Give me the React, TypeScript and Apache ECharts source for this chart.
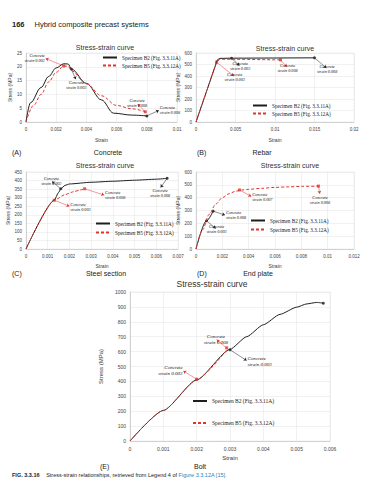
import React, { useEffect, useRef } from "react";
import * as echarts from "echarts";

const B2 = "Specimen B2 (Fig. 3.3.11A)";
const B5 = "Specimen B5 (Fig. 3.3.12A)";
const SANS = "Liberation Sans, Arial, sans-serif";
const SERIF = "Liberation Serif, Times New Roman, serif";
const BLACK = "#1e1e1e";
const RED = "#e0342f";

// (A) Concrete
const concreteStrainB2 = [0, 0.0003, 0.001, 0.0015, 0.002, 0.0025, 0.0028, 0.003, 0.004, 0.005, 0.0058, 0.007, 0.008];
const concreteStressB2 = [0, 7, 12.5, 16.5, 19.6, 21.1, 21.0, 19.2, 14, 8, 3.2, 2.5, 2.2];
const concreteStrainB5 = [0, 0.0005, 0.001, 0.0015, 0.002, 0.0025, 0.0028, 0.003, 0.004, 0.005, 0.006, 0.007, 0.0079];
const concreteStressB5 = [0, 6, 10, 14.5, 18, 20.3, 20.2, 18.6, 13.8, 9.5, 6, 4.8, 3.7];

// (B) Rebar
const rebarStrainB2 = [0, 0.0027, 0.003, 0.0045, 0.015];
const rebarStressB2 = [0, 540, 553, 555, 558];
const rebarStrainB5 = [0, 0.0026, 0.003, 0.0045, 0.0107];
const rebarStressB5 = [0, 520, 545, 546, 540];

// (C) Steel section
const steelStrainB2 = [0, 0.0013, 0.0015, 0.0016, 0.0018, 0.002, 0.003, 0.004, 0.005, 0.006, 0.0065];
const steelStressB2 = [0, 285, 330, 352, 372, 380, 390, 396, 402, 408, 413];
const steelStrainB5 = [0, 0.0013, 0.0018, 0.0022, 0.0025, 0.0027];
const steelStressB5 = [0, 285, 318, 335, 345, 352];

// (D) End plate
const plateStrainB2 = [0, 0.0008, 0.0013];
const plateStressB2 = [0, 220, 295];
const plateStrainB5 = [0, 0.0005, 0.001, 0.0015, 0.002, 0.0025, 0.003, 0.0035, 0.004, 0.005, 0.006, 0.007, 0.008, 0.0093];
const plateStressB5 = [0, 150, 270, 350, 400, 430, 450, 460, 465, 473, 480, 484, 488, 490];

// (E) Bolt
const boltStrainB2 = [0, 0.001, 0.002, 0.003, 0.0035, 0.004, 0.0045, 0.005, 0.0053, 0.0056, 0.0058];
const boltStressB2 = [0, 205, 410, 615, 700, 780, 850, 898, 920, 930, 925];
const boltStrainB5 = [0, 0.001, 0.002, 0.0029];
const boltStressB5 = [0, 205, 410, 610];

type Note = { text: string; at: [number, number]; label: [number, number]; color: string };

const concreteNotes: Note[] = [
  { text: "Concrete\nstrain 0.002", at: [0.0025, 20.3], label: [0.0013, 23], color: RED },
  { text: "Concrete\nstrain 0.003", at: [0.003, 19.2], label: [0.0033, 15.5], color: BLACK },
  { text: "Concrete\nstrain 0.008", at: [0.0079, 3.7], label: [0.0074, 6.5], color: RED },
  { text: "Concrete\nstrain 0.008", at: [0.008, 2.2], label: [0.0088, 4.2], color: BLACK },
];
const rebarNotes: Note[] = [
  { text: "Concrete\nstrain 0.003", at: [0.0045, 555], label: [0.0055, 490], color: BLACK },
  { text: "Concrete\nstrain 0.003", at: [0.0026, 520], label: [0.0048, 400], color: RED },
  { text: "Concrete\nstrain 0.008", at: [0.0107, 540], label: [0.0115, 480], color: RED },
  { text: "Concrete\nstrain 0.008", at: [0.015, 558], label: [0.0165, 470], color: BLACK },
];
const steelNotes: Note[] = [
  { text: "Concrete\nstrain 0.002", at: [0.0016, 352], label: [0.0012, 395], color: BLACK },
  { text: "Concrete\nstrain 0.008", at: [0.0027, 352], label: [0.0036, 315], color: RED },
  { text: "Concrete\nstrain 0.003", at: [0.0013, 285], label: [0.002, 250], color: RED },
  { text: "Concrete\nstrain 0.008", at: [0.0065, 413], label: [0.0062, 360], color: BLACK },
];
const plateNotes: Note[] = [
  { text: "Concrete\nstrain 0.008", at: [0.0013, 295], label: [0.0022, 265], color: BLACK },
  { text: "Concrete\nstrain 0.003", at: [0.0008, 220], label: [0.0015, 160], color: BLACK },
  { text: "Concrete\nstrain 0.007", at: [0.0033, 460], label: [0.0042, 410], color: RED },
  { text: "Concrete\nstrain 0.008", at: [0.0093, 490], label: [0.0094, 430], color: RED },
];
const boltNotes: Note[] = [
  { text: "Concrete\nstrain 0.003", at: [0.002, 415], label: [0.0016, 470], color: RED },
  { text: "Concrete\nstrain 0.008", at: [0.0029, 625], label: [0.0026, 680], color: RED },
  { text: "Concrete\nstrain 0.003", at: [0.003, 612], label: [0.0035, 540], color: BLACK },
  { text: "Concrete\nstrain 0.008", at: [0.0058, 925], label: [0.0061, 860], color: BLACK },
];

const concreteB2Pts = [[0.003, 19.2], [0.008, 2.2]];
const concreteB5Pts = [[0.0025, 20.3], [0.0079, 3.7]];
const rebarB2Pts = [[0.0045, 555], [0.015, 558]];
const rebarB5Pts = [[0.0026, 520], [0.0107, 540]];
const steelB2Pts = [[0.0016, 352], [0.0065, 413]];
const steelB5Pts = [[0.0013, 285], [0.0027, 352]];
const plateB2Pts = [[0.0008, 220], [0.0013, 295]];
const plateB5Pts = [[0.0033, 460], [0.0093, 490]];
const boltB2Pts = [[0.003, 612], [0.0058, 925]];
const boltB5Pts = [[0.002, 415], [0.0029, 625]];

const zip = (xs: number[], ys: number[]) => xs.map((x, i) => [x, ys[i]]);

type Panel = {
  grid: { left: number; top: number; width: number; height: number };
  xMax: number; xInt: number; yMax: number; yInt: number;
  b2: number[][]; b5: number[][]; b2Pts: number[][]; b5Pts: number[][];
  notes: Note[]; legend: { left: number; top: number; gap: number };
  title: { x: number; y: number; size: number };
  tick: number; nameSize: number; xNameGap: number; yNameGap: number;
  smooth: number;
};

const panels: Panel[] = [
  { grid: { left: 26, top: 53, width: 151, height: 69 }, xMax: 0.01, xInt: 0.002, yMax: 25, yInt: 5,
    b2: zip(concreteStrainB2, concreteStressB2), b5: zip(concreteStrainB5, concreteStressB5),
    b2Pts: concreteB2Pts, b5Pts: concreteB5Pts, notes: concreteNotes, legend: { left: 102, top: 55, gap: 3 },
    title: { x: 105, y: 47, size: 7 }, tick: 4.5, nameSize: 5, xNameGap: 15, yNameGap: 14, smooth: 0.35 },
  { grid: { left: 196, top: 53, width: 158, height: 69 }, xMax: 0.02, xInt: 0.005, yMax: 600, yInt: 100,
    b2: zip(rebarStrainB2, rebarStressB2), b5: zip(rebarStrainB5, rebarStressB5),
    b2Pts: rebarB2Pts, b5Pts: rebarB5Pts, notes: rebarNotes, legend: { left: 252, top: 103, gap: 3 },
    title: { x: 285, y: 48, size: 7 }, tick: 4.5, nameSize: 5, xNameGap: 15, yNameGap: 15, smooth: 0 },
  { grid: { left: 26, top: 172, width: 152, height: 77 }, xMax: 0.007, xInt: 0.001, yMax: 450, yInt: 50,
    b2: zip(steelStrainB2, steelStressB2), b5: zip(steelStrainB5, steelStressB5),
    b2Pts: steelB2Pts, b5Pts: steelB5Pts, notes: steelNotes, legend: { left: 95, top: 221, gap: 4 },
    title: { x: 105, y: 165, size: 7 }, tick: 4.5, nameSize: 5, xNameGap: 14, yNameGap: 15, smooth: 0.2 },
  { grid: { left: 196, top: 172, width: 158, height: 77 }, xMax: 0.012, xInt: 0.002, yMax: 600, yInt: 100,
    b2: zip(plateStrainB2, plateStressB2), b5: zip(plateStrainB5, plateStressB5),
    b2Pts: plateB2Pts, b5Pts: plateB5Pts, notes: plateNotes, legend: { left: 250, top: 218, gap: 4 },
    title: { x: 290, y: 165, size: 7 }, tick: 4.5, nameSize: 5, xNameGap: 14, yNameGap: 15, smooth: 0.3 },
  { grid: { left: 130, top: 292, width: 200, height: 149 }, xMax: 0.006, xInt: 0.001, yMax: 1000, yInt: 100,
    b2: zip(boltStrainB2, boltStressB2), b5: zip(boltStrainB5, boltStressB5),
    b2Pts: boltB2Pts, b5Pts: boltB5Pts, notes: boltNotes, legend: { left: 192, top: 398, gap: 16 },
    title: { x: 212, y: 284, size: 8.5 }, tick: 5, nameSize: 6, xNameGap: 14, yNameGap: 19, smooth: 0.2 },
];

const panelLabels = [
  { tag: "(A)", name: "Concrete", tagX: 12, nameX: 108, y: 152 },
  { tag: "(B)", name: "Rebar", tagX: 197, nameX: 262, y: 152 },
  { tag: "(C)", name: "Steel section", tagX: 12, nameX: 106, y: 273 },
  { tag: "(D)", name: "End plate", tagX: 197, nameX: 258, y: 273 },
  { tag: "(E)", name: "Bolt", tagX: 100, nameX: 200, y: 466 },
];

function textEl(x: number, y: number, text: string, size: number, align: string, extra: any = {}) {
  return {
    type: "text", x, y, silent: true,
    style: {
      text, fontSize: size, fontFamily: SANS, fill: "#222222", align, verticalAlign: "middle",
      textAlign: align, textVerticalAlign: "middle", ...extra,
    },
  };
}

export default function App() {
  const ref = useRef<HTMLDivElement>(null);
  useEffect(() => {
    document.body.style.margin = "0";
    if (!ref.current) return;
    const chart = echarts.init(ref.current, undefined, { renderer: "svg" });
    const grid: any[] = [], xAxis: any[] = [], yAxis: any[] = [], series: any[] = [], legend: any[] = [];
    const graphic: any[] = [];
    panels.forEach((p, i) => {
      grid.push({ ...p.grid, show: true, borderColor: "#e2e2e2", borderWidth: 0.5, containLabel: false });
      const axisCommon = {
        type: "value", gridIndex: i, min: 0,
        axisLine: { show: true, lineStyle: { color: "#bdbdbd", width: 0.6 } },
        axisTick: { show: false },
        splitLine: { show: true, lineStyle: { color: "#e2e2e2", width: 0.5 } },
        nameLocation: "middle",
        nameTextStyle: { fontSize: p.nameSize, color: "#3a3a3a", fontFamily: SANS },
      };
      xAxis.push({ ...axisCommon, max: p.xMax, interval: p.xInt, name: "Strain", nameGap: p.xNameGap,
        axisLabel: { fontSize: p.tick, color: "#444", margin: 5, fontFamily: SANS } });
      yAxis.push({ ...axisCommon, max: p.yMax, interval: p.yInt, name: "Stress (MPa)", nameGap: p.yNameGap,
        axisLabel: { fontSize: p.tick, color: "#444", margin: 4, fontFamily: SANS, formatter: (v: number) => String(v) } });
      series.push({ type: "line", name: B2, xAxisIndex: i, yAxisIndex: i, data: p.b2, symbol: "none",
        smooth: p.smooth, smoothMonotone: "x", lineStyle: { color: BLACK, width: 1 }, itemStyle: { color: BLACK } });
      series.push({ type: "line", name: B5, xAxisIndex: i, yAxisIndex: i, data: p.b5, symbol: "none",
        smooth: p.smooth, smoothMonotone: "x", lineStyle: { color: RED, width: 1, type: [3, 2] }, itemStyle: { color: RED } });
      series.push({
        type: "scatter", name: "markers" + i, xAxisIndex: i, yAxisIndex: i, silent: true,
        data: [
          ...p.b2Pts.map((v) => ({ value: v, symbol: "circle", symbolSize: 3, itemStyle: { color: BLACK } })),
          ...p.b5Pts.map((v) => ({ value: v, symbol: "rect", symbolSize: 3, itemStyle: { color: RED } })),
        ],
        markLine: {
          silent: true, symbol: ["none", "arrow"], symbolSize: 3, precision: 6,
          emphasis: { disabled: true },
          data: p.notes.map((n) => [
            { coord: n.at, lineStyle: { color: n.color, width: 0.5, type: "solid" },
              label: { show: true, position: "end", formatter: n.text, distance: 1 } },
            { coord: n.label },
          ]),
          label: { fontSize: i === 4 ? 5 : 4.2, fontStyle: "italic", fontFamily: SERIF, color: "#222", lineHeight: i === 4 ? 6 : 5 },
        },
      });
      legend.push({ data: [B2, B5], orient: "vertical", left: p.legend.left, top: p.legend.top,
        itemWidth: 14, itemHeight: 6, itemGap: p.legend.gap, selectedMode: false, padding: 0,
        itemStyle: { opacity: 0 },
        textStyle: { fontSize: i === 4 ? 5.5 : 5.2, fontFamily: SERIF, color: "#222" } });
      graphic.push(textEl(p.title.x, p.title.y, "Stress-strain curve", p.title.size, "center", { fill: "#333333" }));
    });
    panelLabels.forEach((l) => {
      graphic.push(textEl(l.tagX, l.y, l.tag, 7, "left"));
      graphic.push(textEl(l.nameX, l.y, l.name, 7, "center"));
    });
    graphic.push({
      type: "text", x: 12, y: 24, silent: true,
      style: {
        text: "{b|166}   {n|Hybrid composite precast systems}", verticalAlign: "middle", textVerticalAlign: "middle",
        rich: {
          b: { fontSize: 7.5, fontWeight: "bold", fontFamily: SANS, fill: "#222" },
          n: { fontSize: 7.5, fontFamily: SANS, fill: "#222" },
        },
      },
    });
    graphic.push({
      type: "text", x: 12, y: 475, silent: true,
      style: {
        text: "{b|FIG. 3.3.16}  {n|Stress-strain relationships, retrieved from Legend 4 of }{l|Figure 3.3.12A [15].}",
        verticalAlign: "middle", textVerticalAlign: "middle",
        rich: {
          b: { fontSize: 5.5, fontWeight: "bold", fontFamily: SANS, fill: "#222" },
          n: { fontSize: 5.5, fontFamily: SANS, fill: "#222" },
          l: { fontSize: 5.5, fontFamily: SANS, fill: "#2f7fb8" },
        },
      },
    });
    chart.setOption({ animation: false, backgroundColor: "#ffffff", grid, xAxis, yAxis, series, legend, graphic });
    return () => chart.dispose();
  }, []);
  return <div ref={ref} style={{ width: 375, height: 480 }} />;
}
